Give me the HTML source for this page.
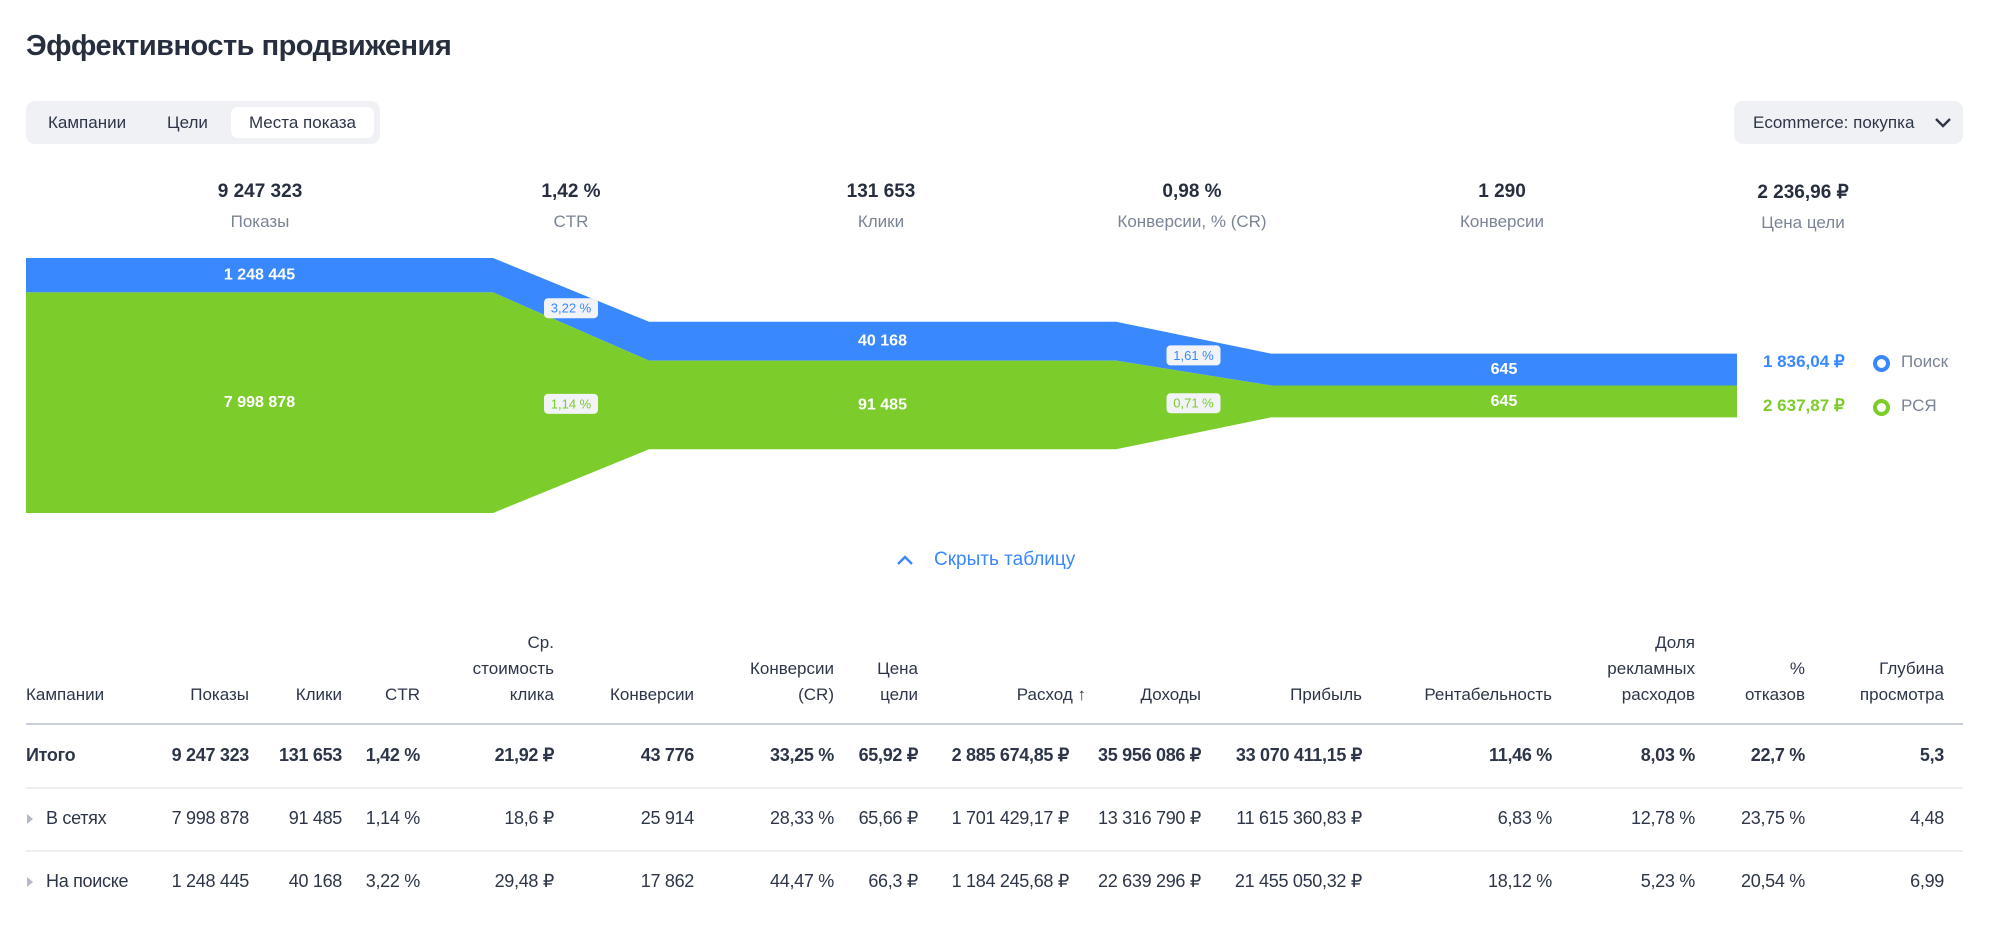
<!DOCTYPE html>
<html><head><meta charset="utf-8">
<style>
*{margin:0;padding:0;box-sizing:border-box}
body{width:1999px;height:936px;background:#fff;font-family:"Liberation Sans","Noto Sans CJK SC",sans-serif;color:#2d3648;position:relative;overflow:hidden}
.a{position:absolute;white-space:nowrap}
.title{left:26px;top:30px;font-size:29px;font-weight:bold;color:#272f3f;letter-spacing:-0.5px}
.tabs{left:26px;top:101px;width:354px;height:43px;background:#f0f1f5;border-radius:9px}
.tab{position:absolute;top:0;height:43px;line-height:43px;font-size:17px;color:#2d3648}
.tab.sel{top:6px;height:31px;line-height:31px;background:#fff;border-radius:7px;left:205px;width:143px;text-align:center}
.dd{left:1734px;top:101px;width:229px;height:43px;background:#f0f1f5;border-radius:9px;font-size:17px;line-height:43px;padding-left:19px}
.stat{width:300px;text-align:center}
.sv{font-size:19px;font-weight:bold;color:#272f3f}
.sl{font-size:17px;color:#7b8496;margin-top:9px}
.hide{left:896px;top:549px;font-size:19px;color:#3a88fd}
.th{font-size:17px;color:#2d3648;line-height:26px;text-align:right}
.td{font-size:18px;color:#2d3648;text-align:right;letter-spacing:-0.3px}
.line{position:absolute;left:26px;width:1937px;height:2px}
</style></head><body>
<div class="a title">Эффективность продвижения</div>

<div class="a tabs">
  <div class="tab" style="left:22px">Кампании</div>
  <div class="tab" style="left:141px">Цели</div>
  <div class="tab sel">Места показа</div>
</div>
<div class="a dd">Ecommerce: покупка
  <svg style="position:absolute;left:200px;top:16px" width="18" height="12" viewBox="0 0 18 12"><path d="M2 2 L9 9 L16 2" stroke="#2d3648" stroke-width="2.4" fill="none"/></svg>
</div>

<div id="stats"></div>

<svg id="funnel" class="a" style="left:0;top:0" width="1999" height="540"></svg>

<div class="a" style="left:1763px;top:352px;font-size:17px;font-weight:bold;color:#3a88fd">1 836,04 ₽</div>
<div class="a" style="left:1763px;top:396px;font-size:17px;font-weight:bold;color:#7ccd2b">2 637,87 ₽</div>
<div class="a" style="left:1873px;top:355px;width:17px;height:17px;border:4px solid #3a88fd;border-radius:50%"></div>
<div class="a" style="left:1901px;top:352px;font-size:17px;color:#7b8496">Поиск</div>
<div class="a" style="left:1873px;top:399px;width:17px;height:17px;border:4px solid #7ccd2b;border-radius:50%"></div>
<div class="a" style="left:1901px;top:396px;font-size:17px;color:#7b8496">РСЯ</div>

<div class="a hide"><svg style="position:absolute;left:0;top:5px" width="18" height="12" viewBox="0 0 18 12"><path d="M2 10 L9 3 L16 10" stroke="#3a88fd" stroke-width="2.4" fill="none"/></svg><span style="margin-left:38px">Скрыть таблицу</span></div>

<div id="table"></div>

<script>
// ---- funnel data ----
const stageNames = ['Показы','Клики','Конверсии'];
const searchVals = [1248445, 40168, 645];
const networkVals = [7998878, 91485, 645];
const searchLabels = ['1 248 445','40 168','645'];
const networkLabels = ['7 998 878','91 485','645'];
const searchRates = ['3,22 %','1,61 %'];
const networkRates = ['1,14 %','0,71 %'];
const statValues = ['9 247 323','1,42 %','131 653','0,98 %','1 290','2 236,96 ₽'];
const statLabels = ['Показы','CTR','Клики','Конверсии, % (CR)','Конверсии','Цена цели'];

const svg = document.getElementById('funnel');
const NS = 'http://www.w3.org/2000/svg';
const segX = [[26,493],[649,1116],[1271,1737]];
const centerY = 385.5, maxH = 255;
function stageH(i){ return maxH / Math.pow(2, i); }
function geom(i){
  const tot = searchVals[i] + networkVals[i];
  const h = stageH(i);
  const top = centerY - h/2;
  const mid = top + h * searchVals[i] / tot;
  return {top, mid, bot: top + h};
}
function poly(pts, fill, name){
  const p = document.createElementNS(NS,'polygon');
  p.setAttribute('points', pts.map(q=>q.join(',')).join(' '));
  p.setAttribute('fill', fill);
  
  
  svg.appendChild(p);
}
function txt(x,y,s,fill,size,weight,name){
  const t = document.createElementNS(NS,'text');
  t.setAttribute('x',x); t.setAttribute('y',y);
  t.setAttribute('text-anchor','middle'); t.setAttribute('dominant-baseline','central');
  t.setAttribute('fill',fill); t.setAttribute('font-size',size); t.setAttribute('font-weight',weight);
  t.setAttribute('font-family','Liberation Sans, sans-serif');
  t.textContent = s;
  
  
  svg.appendChild(t);
}
const BLUE='#3a88fd', GREEN='#7ccd2b';
for (let i=0;i<3;i++){
  const g = geom(i), [x0,x1] = segX[i];
  poly([[x0,g.top],[x1,g.top],[x1,g.mid],[x0,g.mid]], BLUE, 'search-bar-'+stageNames[i]);
  poly([[x0,g.mid],[x1,g.mid],[x1,g.bot],[x0,g.bot]], GREEN, 'network-bar-'+stageNames[i]);
  const cx = (x0+x1)/2;
  txt(cx,(g.top+g.mid)/2,searchLabels[i],'#fff',16,'bold','search-value-label');
  txt(cx,(g.mid+g.bot)/2,networkLabels[i],'#fff',16,'bold','network-value-label');
  if (i<2){
    const n = geom(i+1), xa = x1, xb = segX[i+1][0];
    poly([[xa,g.top],[xb,n.top],[xb,n.mid],[xa,g.mid]], BLUE, 'search-transition');
    poly([[xa,g.mid],[xb,n.mid],[xb,n.bot],[xa,g.bot]], GREEN, 'network-transition');
    const lx = (xa+xb)/2;
    const topC = (g.top+n.top)/2, midC = (g.mid+n.mid)/2, botC = (g.bot+n.bot)/2;
    const ys = [(topC+midC)/2, (midC+botC)/2];
    [[searchRates[i],BLUE,ys[0],'search-rate-badge'],[networkRates[i],GREEN,ys[1],'network-rate-badge']].forEach(([s,c,y,nm])=>{
      const r = document.createElementNS(NS,'rect');
      r.setAttribute('x',lx-27); r.setAttribute('y',y-10); r.setAttribute('width',54); r.setAttribute('height',20);
      r.setAttribute('rx',4); r.setAttribute('fill','#f1f3f6');
      
      
      svg.appendChild(r);
      txt(lx,y,s,c,13,'normal','rate-label');
    });
  }
}
// stats row
const statCx = [260,571,881,1192,1502,1803];
const st = document.getElementById('stats');
statValues.forEach((v,i)=>{
  const d = document.createElement('div');
  d.className='a stat'; d.style.left=(statCx[i]-150)+'px'; d.style.top='181px';
  d.innerHTML='<div class="sv">'+v+'</div><div class="sl">'+statLabels[i]+'</div>';
  
  
  st.appendChild(d);
});

// ---- table ----
const headers = [['Кампании'],['Показы'],['Клики'],['CTR'],['Ср.','стоимость','клика'],['Конверсии'],['Конверсии','(CR)'],['Цена','цели'],['Расход ↑'],['Доходы'],['Прибыль'],['Рентабельность'],['Доля','рекламных','расходов'],['%','отказов'],['Глубина','просмотра']];
const rowTotal = ['Итого','9 247 323','131 653','1,42 %','21,92 ₽','43 776','33,25 %','65,92 ₽','2 885 674,85 ₽','35 956 086 ₽','33 070 411,15 ₽','11,46 %','8,03 %','22,7 %','5,3'];
const rowNet = ['В сетях','7 998 878','91 485','1,14 %','18,6 ₽','25 914','28,33 %','65,66 ₽','1 701 429,17 ₽','13 316 790 ₽','11 615 360,83 ₽','6,83 %','12,78 %','23,75 %','4,48'];
const rowSearch = ['На поиске','1 248 445','40 168','3,22 %','29,48 ₽','17 862','44,47 %','66,3 ₽','1 184 245,68 ₽','22 639 296 ₽','21 455 050,32 ₽','18,12 %','5,23 %','20,54 %','6,99'];
const colRight = [0,249,342,420,554,694,834,918,1069,1201,1362,1552,1695,1805,1944];
const tb = document.getElementById('table');
headers.forEach((h,i)=>{
  const d = document.createElement('div');
  d.className='a th';
  const lines = h.length;
  d.style.top = (707 - lines*26 + 1)+'px';
  if (i===0){ d.style.left='26px'; d.style.textAlign='left'; }
  else d.style.right = (1999 - colRight[i] - (i===8?17:0))+'px';
  d.innerHTML = h.join('<br>');
  
  
  tb.appendChild(d);
});
const rows = [rowTotal,rowNet,rowSearch];
const rowY = [745,808,871];
rows.forEach((r,ri)=>{
  r.forEach((v,i)=>{
    const d = document.createElement('div');
    d.className='a td';
    d.style.top = rowY[ri]+'px';
    if (i===0){
      d.style.left = (ri===0?26:46)+'px'; d.style.textAlign='left';
      if (ri===0) d.style.fontWeight='bold';
      if (ri>0){
        const tri = document.createElement('div');
        tri.className='a';
        tri.style.cssText='left:27px;top:'+(rowY[ri]+6)+'px;width:0;height:0;border-left:6px solid #b4b9c4;border-top:5px solid transparent;border-bottom:5px solid transparent';
        
        
        tb.appendChild(tri);
      }
    } else {
      d.style.right = (1999-colRight[i])+'px';
      if (ri===0) d.style.fontWeight='bold';
    }
    d.textContent = v;
    
    
    tb.appendChild(d);
  });
});
[[723,'#c9ced8'],[787,'#eceef2'],[850,'#eceef2']].forEach(([y,c])=>{
  const l = document.createElement('div');
  l.className='line'; l.style.top=y+'px'; l.style.background=c;
  
  
  tb.appendChild(l);
});
</script>
</body></html>
